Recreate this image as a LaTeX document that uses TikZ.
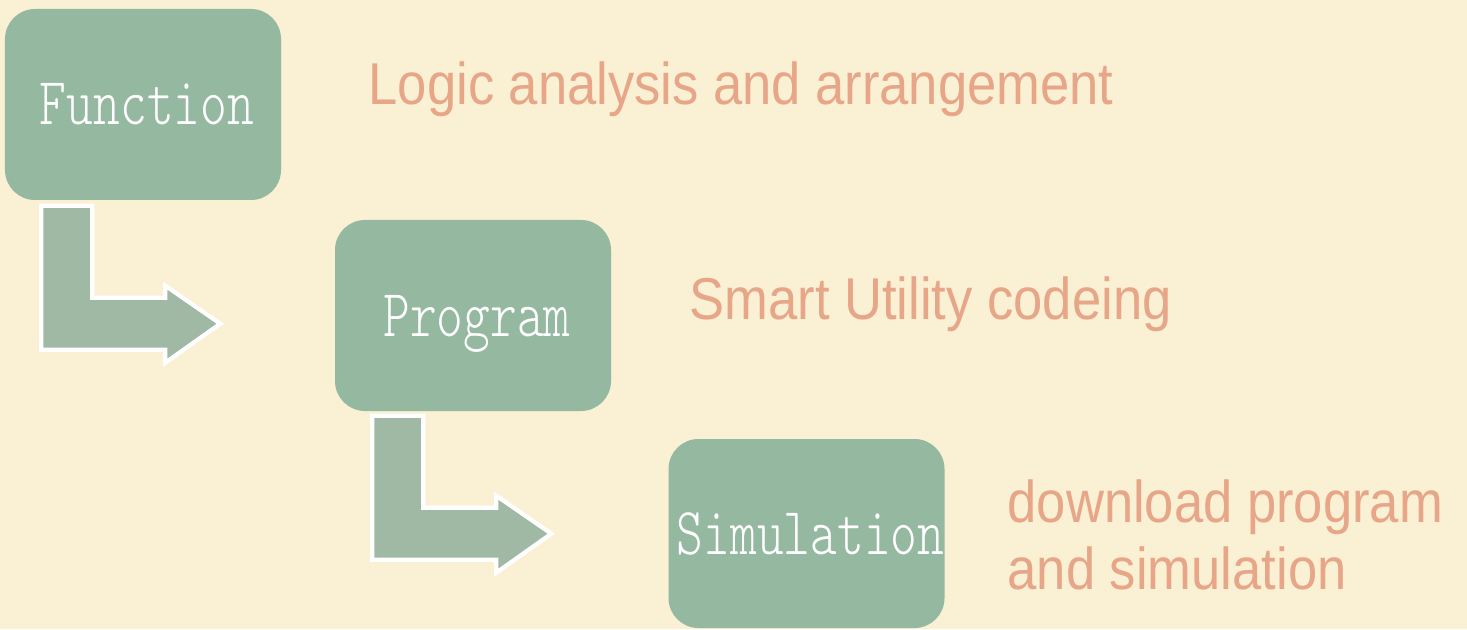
\documentclass[tikz,border=0pt]{standalone}
\usepackage{fontspec}
\setmainfont{Liberation Sans}
\newfontfamily\boxfont{Latin Modern Mono Light}
\usepackage{tikz}
\usetikzlibrary{positioning}

\definecolor{bgcream}{RGB}{250,240,212}
\definecolor{boxgreen}{RGB}{149,184,160}
\definecolor{arrowgreen}{RGB}{160,185,164}
\definecolor{labelpeach}{RGB}{232,166,137}

% bent block arrow, #1 = top left corner of the shaft
\newcommand{\bentarrow}[1]{
    \draw[fill=arrowgreen,draw=white,line width=1.2pt,shift={(#1)}]
        (0,0) -- (0.51,0) -- (0.51,-0.92) -- (1.24,-0.92) -- (1.24,-0.80)
        -- (1.79,-1.18) -- (1.24,-1.57) -- (1.24,-1.44) -- (0,-1.44) -- cycle;
}
\newcommand{\boxtext}[1]{\hspace*{0.04cm}\scalebox{1}[1.32]{\fontsize{14.5pt}{16pt}\boxfont #1}\hspace*{-0.04cm}}
\newcommand{\labeltext}[1]{\scalebox{0.89}[1]{#1}}

\tikzset{
    stagebox/.style={fill=boxgreen,rounded corners=0.3cm,minimum width=2.76cm,minimum height=1.91cm,text=white,inner sep=0pt,text height=0.41cm,text depth=0pt},
    stagelabel/.style={text=labelpeach,font=\fontsize{16.8pt}{18.8pt}\selectfont,inner sep=0pt,anchor=base west,align=left}
}

\begin{document}
\begin{tikzpicture}
        \useasboundingbox (0,0) rectangle (14.67,6.29);
        \fill[bgcream] (0,0) rectangle (14.67,6.29);

            % Stage boxes
            \node[stagebox] (F) at (1.43,5.245) {\boxtext{Function}};
            \node[stagebox] (P) at (4.73,3.135) {\boxtext{Program}};
            \node[stagebox,minimum height=1.89cm] (S) at (8.065,0.955) {\boxtext{Simulation}};

            % Descriptions
            \node[stagelabel] (LF) at (3.68,5.24) {\labeltext{Logic analysis and arrangement}};
            \node[stagelabel] (LP) at (6.89,3.10) {\labeltext{Smart Utility codeing}};
            \node[stagelabel] (LS) at (10.07,0.40) {\labeltext{download program}\\\labeltext{and simulation}};

            % Bent arrows between stages
            \coordinate (A1) at ([shift={(0.37,-0.05)}]F.south west);
            \coordinate (A2) at ([shift={(0.38,-0.04)}]P.south west);
            \bentarrow{A1}
            \bentarrow{A2}

        \end{tikzpicture}
\end{document}
